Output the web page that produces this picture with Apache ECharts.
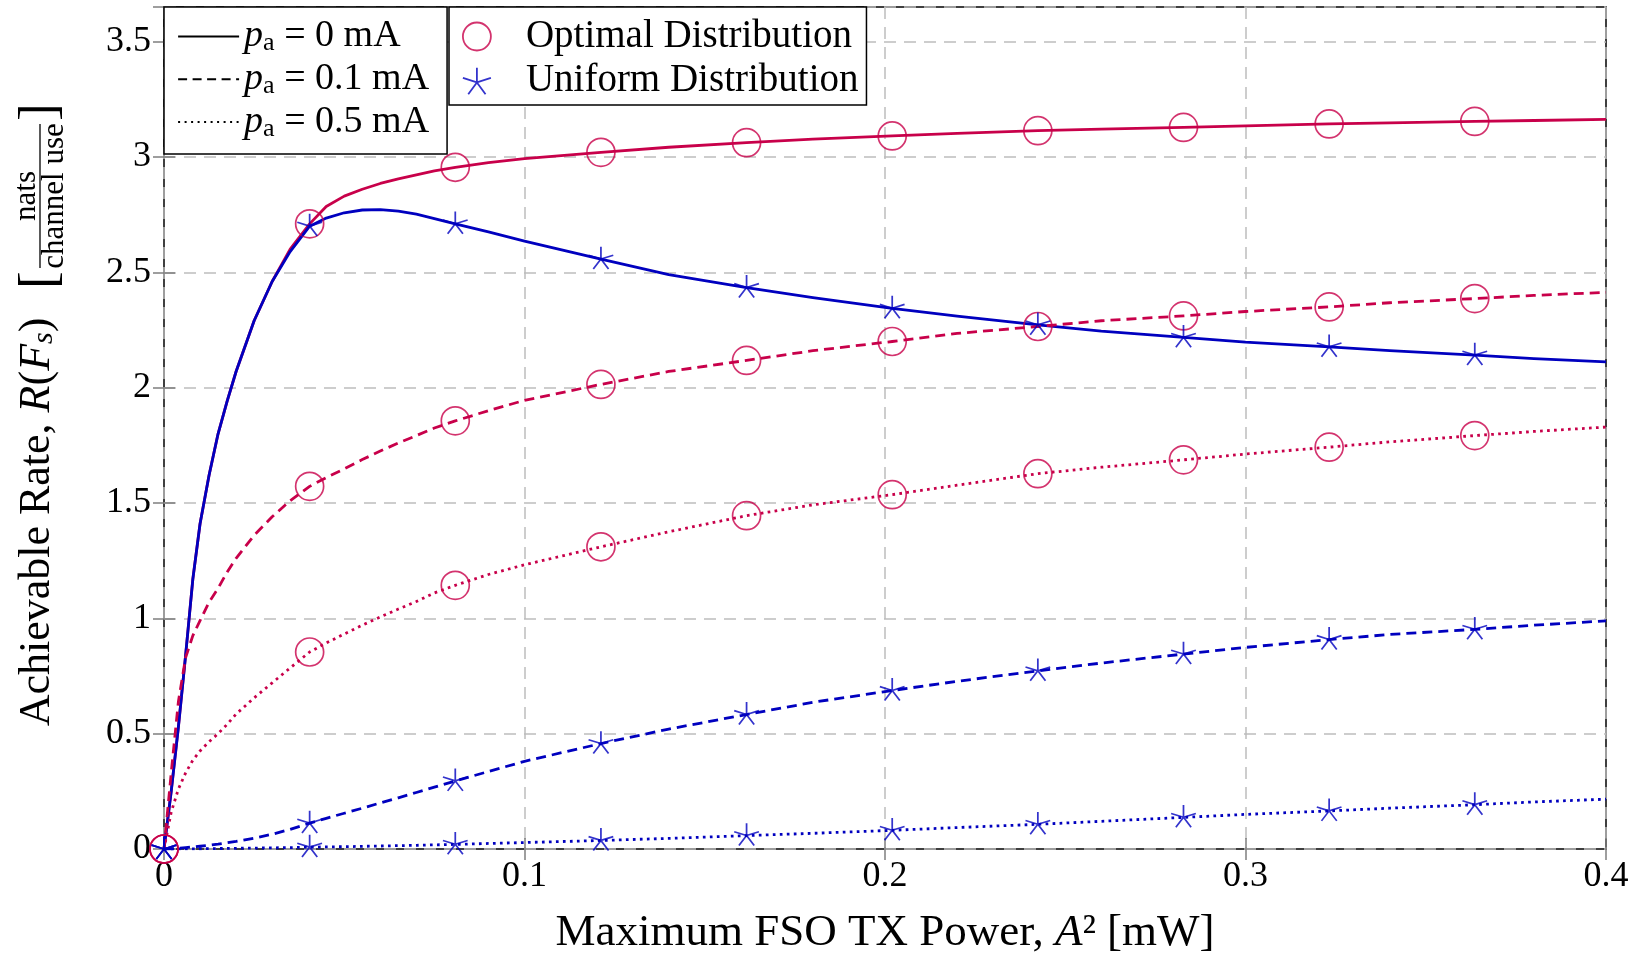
<!DOCTYPE html>
<html><head><meta charset="utf-8">
<script src="https://cdn.jsdelivr.net/npm/echarts@6/dist/echarts.min.js"></script>
<style>html,body{margin:0;padding:0;background:#fff}#c{width:1635px;height:957px}</style>
</head><body><div id="c"></div>
<script>
// ---- data ----
const xLine = [0, 0.002, 0.004, 0.006, 0.008, 0.01, 0.0125, 0.015, 0.0175, 0.02, 0.025, 0.03, 0.035, 0.0404, 0.045, 0.05, 0.055, 0.06, 0.065, 0.07, 0.075, 0.0808, 0.09, 0.1, 0.1212, 0.14, 0.1616, 0.18, 0.202, 0.22, 0.2424, 0.26, 0.2828, 0.3, 0.3232, 0.34, 0.3636, 0.38, 0.4];
const optLinePa0  = [0, 0.25, 0.53, 0.84, 1.17, 1.41, 1.62, 1.80, 1.94, 2.07, 2.29, 2.46, 2.60, 2.71, 2.785, 2.83, 2.86, 2.885, 2.905, 2.922, 2.94, 2.955, 2.975, 2.993, 3.02, 3.042, 3.062, 3.077, 3.091, 3.102, 3.114, 3.121, 3.128, 3.135, 3.143, 3.148, 3.154, 3.158, 3.163];
const optLinePa01 = [0, 0.33, 0.64, 0.83, 0.925, 0.99, 1.07, 1.13, 1.20, 1.26, 1.36, 1.44, 1.51, 1.572, 1.61, 1.648, 1.688, 1.725, 1.76, 1.792, 1.825, 1.856, 1.90, 1.945, 2.014, 2.07, 2.118, 2.16, 2.2, 2.235, 2.265, 2.29, 2.311, 2.33, 2.35, 2.368, 2.386, 2.40, 2.413];
const optLinePa05 = [0, 0.16, 0.26, 0.33, 0.385, 0.425, 0.465, 0.50, 0.54, 0.585, 0.655, 0.72, 0.785, 0.854, 0.893, 0.932, 0.97, 1.006, 1.04, 1.073, 1.11, 1.143, 1.19, 1.232, 1.31, 1.375, 1.445, 1.492, 1.536, 1.577, 1.627, 1.655, 1.687, 1.712, 1.742, 1.765, 1.792, 1.81, 1.829];
const uniLinePa0  = [0, 0.25, 0.53, 0.84, 1.17, 1.41, 1.62, 1.80, 1.94, 2.07, 2.29, 2.46, 2.59, 2.70, 2.735, 2.758, 2.77, 2.772, 2.765, 2.752, 2.733, 2.71, 2.675, 2.635, 2.557, 2.49, 2.434, 2.39, 2.344, 2.31, 2.272, 2.245, 2.218, 2.197, 2.177, 2.16, 2.141, 2.126, 2.112];
const uniLinePa01 = [0, 0.001, 0.003, 0.006, 0.009, 0.012, 0.016, 0.021, 0.027, 0.033, 0.047, 0.064, 0.085, 0.112, 0.133, 0.155, 0.177, 0.2, 0.222, 0.245, 0.268, 0.295, 0.336, 0.38, 0.457, 0.52, 0.583, 0.636, 0.687, 0.727, 0.772, 0.806, 0.845, 0.874, 0.908, 0.93, 0.952, 0.97, 0.989];
const uniLinePa05 = [0, 0, 0, 0.0005, 0.0008, 0.001, 0.0015, 0.002, 0.0025, 0.003, 0.004, 0.005, 0.006, 0.008, 0.009, 0.01, 0.0115, 0.013, 0.0145, 0.016, 0.018, 0.02, 0.024, 0.028, 0.037, 0.046, 0.058, 0.068, 0.081, 0.093, 0.107, 0.12, 0.137, 0.15, 0.165, 0.177, 0.192, 0.204, 0.216];

const xMark = [0, 0.0404, 0.0808, 0.1212, 0.1616, 0.202, 0.2424, 0.2828, 0.3232, 0.3636];
const optMarkPa0  = [0, 2.71, 2.955, 3.02, 3.062, 3.091, 3.114, 3.128, 3.143, 3.154];
const optMarkPa01 = [0, 1.572, 1.856, 2.014, 2.118, 2.2, 2.265, 2.311, 2.35, 2.386];
const optMarkPa05 = [0, 0.854, 1.143, 1.31, 1.445, 1.536, 1.627, 1.687, 1.742, 1.792];
const uniMarkPa0  = [0, 2.70, 2.71, 2.557, 2.434, 2.344, 2.272, 2.218, 2.177, 2.141];
const uniMarkPa01 = [0, 0.112, 0.295, 0.457, 0.583, 0.687, 0.772, 0.845, 0.908, 0.952];
const uniMarkPa05 = [0, 0.008, 0.02, 0.037, 0.058, 0.081, 0.107, 0.137, 0.165, 0.192];

const paNames = ['pa = 0 mA', 'pa = 0.1 mA', 'pa = 0.5 mA'];
const paValues = ['0', '0.1', '0.5'];
const markerNames = ['Optimal Distribution', 'Uniform Distribution'];
const xTitle = 'Maximum FSO TX Power, {i|A}² [mW]';
const yTitleMain = 'Achievable Rate, {i|R}({i|F}{s|s})';
const yUnitTop = 'nats';
const yUnitBottom = 'channel use';

// ---- style ----
const F = '"Liberation Serif", "DejaVu Serif", serif';
const RED = '#C8004A';
const BLUE = '#0000BF';
const STAR = 'path://M0,0L0,-10M0,0L9.511,-3.09M0,0L-9.511,-3.09M0,0L-5.878,8.09M0,0L5.878,8.09';
const pairs = (xs, ys) => xs.map((x, i) => [x, ys[i]]);
const dashed = [10, 6];
const dotted = [2.7, 4.3];
const styles = ['solid', dashed, dotted];
const optLines = [optLinePa0, optLinePa01, optLinePa05];
const uniLines = [uniLinePa0, uniLinePa01, uniLinePa05];
const optMarks = [optMarkPa0, optMarkPa01, optMarkPa05];
const uniMarks = [uniMarkPa0, uniMarkPa01, uniMarkPa05];

const series = [];
for (let k = 0; k < 3; k++) {
  series.push({type: 'line', name: paNames[k], data: pairs(xLine, optLines[k]), symbol: 'none', showSymbol: false, silent: true,
    lineStyle: {color: RED, width: 2.8, type: styles[k], cap: 'butt', join: 'round'}, itemStyle: {color: RED}, z: 2});
  series.push({type: 'line', name: paNames[k], data: pairs(xLine, uniLines[k]), symbol: 'none', showSymbol: false, silent: true,
    lineStyle: {color: BLUE, width: 2.8, type: styles[k], cap: 'butt', join: 'round'}, itemStyle: {color: BLUE}, z: 2});
}
series.push({type: 'scatter', name: markerNames[0], silent: true,
  data: [].concat(...optMarks.map(m => pairs(xMark, m))),
  symbol: 'circle', symbolSize: 28,
  itemStyle: {color: 'rgba(0,0,0,0)', borderColor: RED, borderWidth: 1.7}, z: 3});
series.push({type: 'scatter', name: markerNames[1], silent: true,
  data: [].concat(...uniMarks.map(m => pairs(xMark, m))),
  symbol: STAR, symbolSize: [24.7, 23.5], symbolOffset: [0, -1.24], symbolKeepAspect: true,
  itemStyle: {color: 'rgba(0,0,0,0)', borderColor: BLUE, borderWidth: 1.7}, z: 4});

const legendRich = {
  i: {fontFamily: F, fontSize: 38, fontStyle: 'italic', lineHeight: 40},
  s: {fontFamily: F, fontSize: 26, verticalAlign: 'bottom', lineHeight: 26},
  t: {fontFamily: F, fontSize: 38, lineHeight: 40}
};

const splitStyle = {show: true, lineStyle: {color: '#bdbdbd', width: 1.5, type: [12, 8]}};
const tickStyle = {show: true, inside: true, length: 11, lineStyle: {color: '#7f7f7f', width: 1.5}};

const option = {
  animation: false,
  grid: {left: 164, right: 29, top: 7, bottom: 108, containLabel: false, outerBoundsMode: 'none',
         show: true, borderColor: '#000', borderWidth: 1.5, backgroundColor: 'transparent'},
  xAxis: [
    {type: 'value', min: 0, max: 0.4, interval: 0.1, position: 'bottom',
     axisLine: {show: false}, axisTick: tickStyle, splitLine: splitStyle,
     axisLabel: {fontFamily: F, fontSize: 36, color: '#000', margin: 10},
     name: xTitle, nameLocation: 'middle', nameGap: 62,
     nameTextStyle: {fontFamily: F, fontSize: 45, color: '#000',
       rich: {i: {fontFamily: F, fontSize: 45, fontStyle: 'italic'}}}},
    {type: 'value', min: 0, max: 0.4, interval: 0.1, position: 'top',
     axisLine: {show: false}, axisTick: tickStyle, splitLine: {show: false}, axisLabel: {show: false}}
  ],
  yAxis: [
    {type: 'value', min: 0, max: 3.65, interval: 0.5, position: 'left',
     axisLine: {show: false}, axisTick: tickStyle, splitLine: splitStyle,
     axisLabel: {fontFamily: F, fontSize: 36, color: '#000', margin: 13, showMaxLabel: false}},
    {type: 'value', min: 0, max: 3.65, interval: 0.5, position: 'right',
     axisLine: {show: false}, axisTick: tickStyle, splitLine: {show: false}, axisLabel: {show: false}}
  ],
  legend: [
    {left: 164, top: 7, orient: 'vertical', selectedMode: false, z: 10,
     itemWidth: 61, itemHeight: 14, itemGap: 2.75, padding: [9.5, 18, 12, 13],
     borderColor: '#000', borderWidth: 1.5, backgroundColor: '#fff', borderRadius: 0,
     data: paNames.map((n, k) => ({name: n,
       lineStyle: {color: '#000', width: 2.2, type: k === 0 ? 'solid' : (k === 1 ? [9, 5.5] : [2, 4.5])},
       itemStyle: {color: 'rgba(0,0,0,0)', borderWidth: 0, opacity: 0}})),
     formatter: name => '{i|p}{s|a}{t| = ' + paValues[paNames.indexOf(name)] + ' mA}',
     textStyle: {fontFamily: F, fontSize: 38, lineHeight: 40, color: '#000', rich: legendRich}},
    {left: 449, top: 7, orient: 'vertical', selectedMode: false, z: 10,
     itemWidth: 28, itemHeight: 28, itemGap: 4.5, padding: [9.5, 8, 4, 13],
     borderColor: '#000', borderWidth: 1.5, backgroundColor: '#fff', borderRadius: 0,
     data: [
       {name: markerNames[0], icon: 'circle', itemStyle: {color: 'rgba(0,0,0,0)', borderColor: RED, borderWidth: 1.8}},
       {name: markerNames[1], icon: STAR, itemStyle: {color: 'rgba(0,0,0,0)', borderColor: BLUE, borderWidth: 1.8}}
     ],
     textStyle: {fontFamily: F, fontSize: 39, lineHeight: 40, color: '#000', padding: [0, 0, 0, 30]}}
  ],
  graphic: [
    {type: 'text', x: 37, y: 522, rotation: Math.PI / 2,
     style: {text: yTitleMain, fontFamily: F, fontSize: 44, fill: '#000', align: 'center', verticalAlign: 'middle',
       rich: {i: {fontFamily: F, fontSize: 44, fontStyle: 'italic'},
              s: {fontFamily: F, fontSize: 30, fontStyle: 'italic', verticalAlign: 'bottom', lineHeight: 30}}}},
    {type: 'text', x: 41, y: 280, rotation: Math.PI / 2,
     style: {text: '[', fontFamily: F, fontSize: 52, fill: '#000', align: 'center', verticalAlign: 'middle'}},
    {type: 'text', x: 27, y: 196, rotation: Math.PI / 2,
     style: {text: yUnitTop, fontFamily: F, fontSize: 31, fill: '#000', align: 'center', verticalAlign: 'middle'}},
    {type: 'line', shape: {x1: 40, y1: 268, x2: 40, y2: 124}, style: {stroke: '#000', lineWidth: 1.3}},
    {type: 'text', x: 55, y: 196, rotation: Math.PI / 2,
     style: {text: yUnitBottom, fontFamily: F, fontSize: 31, fill: '#000', align: 'center', verticalAlign: 'middle'}},
    {type: 'text', x: 41, y: 112, rotation: Math.PI / 2,
     style: {text: ']', fontFamily: F, fontSize: 52, fill: '#000', align: 'center', verticalAlign: 'middle'}}
  ],
  series: series
};
const chart = echarts.init(document.getElementById('c'), null, {renderer: 'canvas'});
chart.setOption(option);
</script>
</body></html>
